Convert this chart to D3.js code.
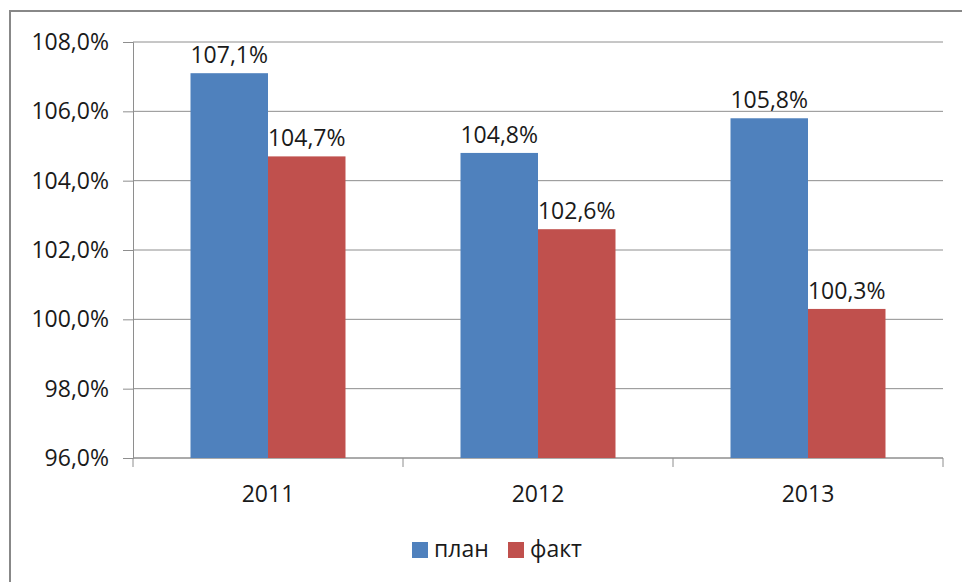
<!DOCTYPE html>
<html>
<head>
<meta charset="utf-8">
<script src="https://cdn.jsdelivr.net/npm/d3@7"></script>
<style>
	body { margin: 0; background: #fff; }
	svg { display: block; font-family: "Open Sans", "Liberation Sans", sans-serif; }
</style>
</head>
<body>
<svg id="chart" width="962" height="582"></svg>
<script>
// Data
const years = ["2011", "2012", "2013"];
const seriesNames = ["план", "факт"];
const planValues = [107.1, 104.8, 105.8];
const factValues = [104.7, 102.6, 100.3];
const yTicks = [96, 98, 100, 102, 104, 106, 108];

const colors = ["#4F81BD", "#C0504D"];
const gridColor = "#8e8e8e";
const fontSize = 23;

const width = 962,
	height = 582;
const margin = { top: 42, right: 19, bottom: 124, left: 133 };

const ruLocale = d3.formatLocale({
	decimal: ",",
	thousands: " ",
	grouping: [3],
	currency: ["", ""],
});
const fmt = (v) => ruLocale.format(".1f")(v) + "%";

const svg = d3.select("#chart");

// outer frame (runs off the right and bottom edges like in the source)
svg.append("rect")
	.attr("x", 10)
	.attr("y", 11)
	.attr("width", width)
	.attr("height", height)
	.attr("fill", "none")
	.attr("stroke", "#888")
	.attr("stroke-width", 2);

const g = svg.append("g").attr("transform", `translate(${margin.left},${margin.top})`);
const innerW = width - margin.left - margin.right;
const innerH = height - margin.top - margin.bottom;

const x0 = d3.scaleBand().domain(years).range([0, innerW]).padding(0);
const x1 = d3.scaleBand()
	.domain(seriesNames)
	.range([0, x0.bandwidth()])
	.paddingInner(0)
	.paddingOuter(0.742);
const y = d3.scaleLinear().domain([96, 108]).range([innerH, 0]);

// gridlines
g.selectAll(".grid")
	.data(yTicks)
	.join("line")
	.attr("class", "grid")
	.attr("x1", 0)
	.attr("x2", innerW)
	.attr("y1", (d) => y(d))
	.attr("y2", (d) => y(d))
	.attr("stroke", gridColor)
	.attr("stroke-width", 1);

// y axis
const yAxis = g.append("g")
	.call(d3.axisLeft(y).tickValues(yTicks).tickFormat(fmt).tickSize(10).tickPadding(14));
yAxis.select(".domain").attr("stroke", gridColor);
yAxis.selectAll(".tick line").attr("stroke", gridColor);
yAxis.selectAll("text")
	.attr("font-size", fontSize)
	.attr("font-family", "'Open Sans', 'Liberation Sans', sans-serif")
	.attr("fill", "#1a1a1a");

// x axis (ticks at category boundaries)
const xAxisG = g.append("g").attr("transform", `translate(0,${innerH})`);
xAxisG.append("line")
	.attr("x1", 0)
	.attr("x2", innerW)
	.attr("stroke", gridColor);
const boundaries = years.map((d) => x0(d)).concat([innerW]);
xAxisG.selectAll(".xtick")
	.data(boundaries)
	.join("line")
	.attr("class", "xtick")
	.attr("x1", (d) => d)
	.attr("x2", (d) => d)
	.attr("y1", 0)
	.attr("y2", 9)
	.attr("stroke", gridColor);
xAxisG.selectAll(".xlabel")
	.data(years)
	.join("text")
	.attr("class", "xlabel")
	.attr("x", (d) => x0(d) + x0.bandwidth() / 2)
	.attr("y", 44)
	.attr("text-anchor", "middle")
	.attr("font-size", fontSize)
	.attr("fill", "#1a1a1a")
	.text((d) => d);

// bars
const rows = years.map((yr, i) => ({
	year: yr,
	values: [
		{ key: seriesNames[0], value: planValues[i] },
		{ key: seriesNames[1], value: factValues[i] },
	],
}));
const groups = g.selectAll(".year")
	.data(rows)
	.join("g")
	.attr("class", "year")
	.attr("transform", (d) => `translate(${x0(d.year)},0)`);

groups.selectAll("rect")
	.data((d) => d.values)
	.join("rect")
	.attr("x", (d) => x1(d.key))
	.attr("width", x1.bandwidth())
	.attr("y", (d) => y(d.value))
	.attr("height", (d) => innerH - y(d.value))
	.attr("fill", (d, i) => colors[i]);

groups.selectAll(".vlabel")
	.data((d) => d.values)
	.join("text")
	.attr("class", "vlabel")
	.attr("x", (d) => x1(d.key) + x1.bandwidth() / 2)
	.attr("y", (d) => y(d.value) - 10)
	.attr("text-anchor", "middle")
	.attr("font-size", fontSize)
	.attr("fill", "#1a1a1a")
	.text((d) => fmt(d.value));

// legend
const legend = svg.append("g").attr("transform", "translate(412,542)");
const legendX = [0, 96];
const items = legend.selectAll(".item")
	.data(seriesNames)
	.join("g")
	.attr("class", "item")
	.attr("transform", (d, i) => `translate(${legendX[i]},0)`);
items.append("rect")
	.attr("width", 16)
	.attr("height", 16)
	.attr("fill", (d, i) => colors[i]);
items.append("text")
	.attr("x", 22)
	.attr("y", 15)
	.attr("font-size", fontSize)
	.attr("fill", "#1a1a1a")
	.text((d) => d);
</script>
</body>
</html>
